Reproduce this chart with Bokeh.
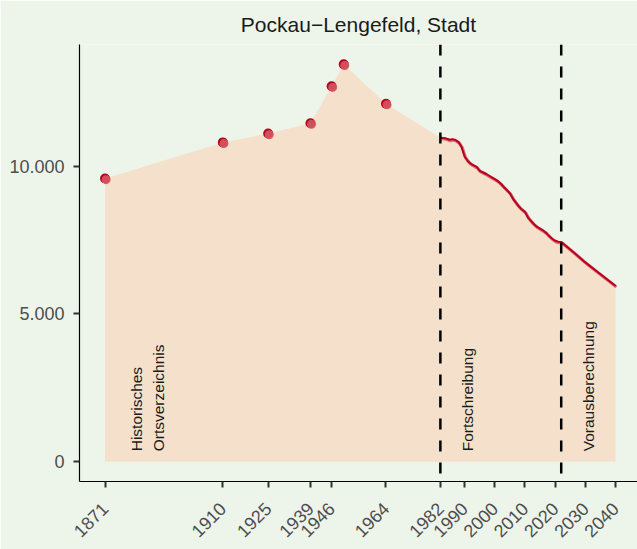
import math
from bokeh.plotting import figure
from bokeh.models import ColumnDataSource, FixedTicker, Span
from bokeh.core.properties import value
from bokeh.transform import dodge
from bokeh.embed import file_html
from bokeh.resources import INLINE

# ---------------- data ----------------
title_text = "Pockau\u2212Lengefeld, Stadt"

hist_years = [1871, 1910, 1925, 1939, 1946, 1950, 1964]
hist_pop = [9580, 10800, 11100, 11450, 12700, 13440, 12110]

fort_years = list(range(1982, 2023))
fort_pop = [10960, 10950, 10930, 10890, 10910, 10880, 10810, 10650, 10330, 10180,
            10080, 10020, 9970, 9840, 9790, 9740, 9680, 9620, 9560, 9490,
            9400, 9290, 9190, 9080, 8900, 8760, 8630, 8530, 8450, 8260,
            8140, 8030, 7940, 7880, 7820, 7740, 7630, 7540, 7470, 7440, 7430]

proj_years = [2025, 2030, 2035, 2040]
proj_pop = [7180, 6740, 6340, 5940]

tick_years = [1871, 1910, 1925, 1939, 1946, 1964, 1982, 1990, 2000, 2010, 2020, 2030, 2040]
y_ticks = [0, 5000, 10000]
y_tick_labels = ["0", "5.000", "10.000"]

phase_years = [1982, 2022]
phase_labels = ["Historisches\nOrtsverzeichnis", "Fortschreibung", "Vorausberechnung"]
phase_label_x = [1885, 1991, 2031]
phase_label_y = [350, 350, 350]

# ---------------- styling ----------------
BG = "#EDF5EB"
AREA = "#F5E1CB"
DARK_RED = "#B8001E"
LIGHT_RED = "#D65662"
FONT = "Liberation Sans"

area_src = ColumnDataSource(dict(year=hist_years + fort_years + proj_years,
                                 pop=hist_pop + fort_pop + proj_pop))
line_src = ColumnDataSource(dict(year=fort_years + proj_years,
                                 pop=fort_pop + proj_pop))
pt_src = ColumnDataSource(dict(year=hist_years, pop=hist_pop))
lab_src = ColumnDataSource(dict(x=phase_label_x, y=phase_label_y, text=phase_labels))

p = figure(width=637, height=549, output_backend="svg", toolbar_location=None,
           x_range=(1862.55, 2047.25), y_range=(-672, 14112),
           min_border_left=79, min_border_right=0, min_border_top=44,
           min_border_bottom=68, title=title_text)

p.background_fill_color = BG
p.border_fill_color = BG
p.outline_line_color = None
p.grid.visible = False

p.title.text_font = FONT
p.title.text_font_size = "21px"
p.title.text_font_style = "normal"
p.title.text_color = "#1A1A1A"
p.title.align = "center"
p.title.standoff = 17

for ax in (p.xaxis[0], p.yaxis[0]):
    ax.axis_line_color = "black"
    ax.axis_line_width = 1.2
    ax.major_tick_in = 0
    ax.major_tick_out = 6
    ax.major_tick_line_width = 2
    ax.major_tick_line_color = "#333333"
    ax.minor_tick_line_color = None
    ax.major_label_text_font = FONT
    ax.major_label_text_font_size = "18px"
    ax.major_label_text_color = "#4D4D4D"

p.xaxis.ticker = FixedTicker(ticks=tick_years)
p.xaxis.major_label_orientation = math.pi / 4
p.xaxis.major_label_standoff = 18

p.yaxis.ticker = FixedTicker(ticks=y_ticks)
p.yaxis.major_label_overrides = dict(zip(y_ticks, y_tick_labels))
p.yaxis.major_label_standoff = 9

p.varea(x="year", y1=0, y2="pop", source=area_src, fill_color=AREA)

for yr in phase_years:
    p.add_layout(Span(location=yr, dimension="height", line_color="black",
                      line_dash="11 11", line_width=2.5))

p.line(x=dodge("year", 0.3), y=dodge("pop", -35), source=line_src,
       line_color=LIGHT_RED, line_width=3.2, line_alpha=0.8)
p.line(x="year", y="pop", source=line_src, line_color=DARK_RED, line_width=2)

p.scatter(x="year", y="pop", source=pt_src, size=10, fill_color=DARK_RED,
          line_color=None)
p.scatter(x=dodge("year", 0.35), y=dodge("pop", -40), source=pt_src, size=9,
          fill_color=LIGHT_RED, line_color=None, fill_alpha=0.9)

p.text(x="x", y="y", text="text", source=lab_src, angle=math.pi / 2,
       text_align="left", text_baseline="middle", text_font=value(FONT),
       text_font_size="15.5px", text_color="#1A1A1A", text_line_height=1.3)

open("out.html", "w").write(file_html(p, INLINE))
